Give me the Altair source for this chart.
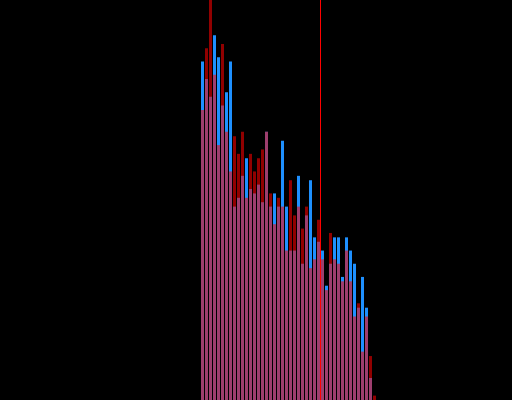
import altair as alt
import pandas as pd

# Histogram counts per bin for the two samples (same bin edges)
bins = list(range(44))
blue_counts = [77, 73, 69, 83, 78, 67, 70, 77, 44, 46, 51, 55, 48, 47, 49, 45,
               61, 44, 47, 44, 59, 44, 34, 34, 51, 31, 42, 50, 37, 36, 34, 26,
               31, 37, 37, 28, 37, 34, 31, 21, 28, 21, 5, 0]
red_counts = [66, 80, 91, 74, 58, 81, 61, 52, 60, 56, 61, 46, 56, 52, 55, 57,
              61, 47, 40, 46, 44, 34, 50, 42, 44, 39, 44, 30, 32, 41, 32, 25,
              38, 32, 31, 27, 34, 27, 19, 22, 11, 19, 10, 1]
# Reference marker (in bin units)
marker = [29.875]

bar_width = 0.75

df = pd.DataFrame({
    "start": bins,
    "end": [b + bar_width for b in bins],
    "blue": blue_counts,
    "red": red_counts,
})
marker_df = pd.DataFrame({"x": marker})

x_scale = alt.Scale(domain=[-50.25, 77.75], nice=False, zero=False)
y_scale = alt.Scale(domain=[0, 91], nice=False)

base = alt.Chart(df)

blue_bars = base.mark_rect(color="#1e90ff").encode(
    x=alt.X("start:Q", scale=x_scale, axis=None),
    x2="end:Q",
    y=alt.Y("blue:Q", scale=y_scale, axis=None),
    y2=alt.datum(0),
)

red_bars = base.mark_rect(color="#ff0000", opacity=0.57).encode(
    x=alt.X("start:Q", scale=x_scale, axis=None),
    x2="end:Q",
    y=alt.Y("red:Q", scale=y_scale, axis=None),
    y2=alt.datum(0),
)

rule = alt.Chart(marker_df).mark_rule(color="#ff0000", strokeWidth=1).encode(
    x=alt.X("x:Q", scale=x_scale, axis=None),
)

chart = (
    alt.layer(blue_bars, red_bars, rule)
    .properties(width=512, height=400, background="black", padding=0,
                autosize=alt.AutoSizeParams(type="none"))
    .configure_view(stroke=None)
)

chart.save("out.html", embed_options={"renderer": "svg", "actions": False})
